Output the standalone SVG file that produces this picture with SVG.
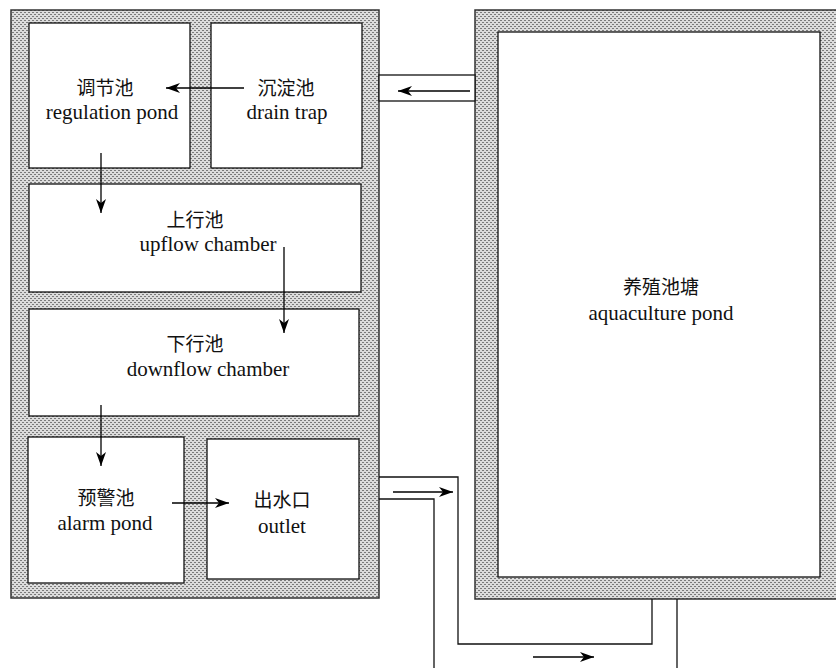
<svg xmlns="http://www.w3.org/2000/svg" width="836" height="668" viewBox="0 0 836 668">
<defs>
<pattern id="dots" width="4" height="4" patternUnits="userSpaceOnUse">
<rect width="4" height="4" fill="#dcdcdc"/>
<rect x="0" y="0" width="2" height="1" fill="#7a7a7a"/>
<rect x="2" y="2" width="2" height="1" fill="#7a7a7a"/>
</pattern>
<marker id="ah" viewBox="0 0 14 10" refX="14" refY="5" markerWidth="14" markerHeight="10" markerUnits="userSpaceOnUse" orient="auto">
<path d="M0,0 L14,5 L0,10 L4,5 Z" fill="#000"/>
</marker>
<style>
.wall{fill:url(#dots);stroke:#333;stroke-width:1.5}
.box{fill:#fff;stroke:#111;stroke-width:1.3}
.line{fill:none;stroke:#111;stroke-width:1.3}
.arr{fill:none;stroke:#000;stroke-width:1.3;marker-end:url(#ah)}
text{font-family:"Liberation Serif","Noto Sans CJK SC",serif;font-size:21px;fill:#111;text-anchor:middle}
.zh{font-family:"Noto Sans CJK SC",sans-serif;font-size:19px}
</style>
</defs>
<rect width="836" height="668" fill="#fff"/>
<g id="treatment-system">
<rect class="wall" x="11" y="10" width="368" height="588"/>
</g>
<g id="aquaculture-pond">
<rect class="wall" x="475" y="10" width="370" height="589"/>
<rect class="box" x="498" y="32" width="322" height="545"/>
<text class="zh" x="661" y="294">养殖池塘</text>
<text x="661" y="320">aquaculture pond</text>
</g>
<g id="regulation-pond">
<rect class="box" x="29" y="23" width="161" height="145"/>
<text class="zh" x="105" y="95">调节池</text>
<text x="112" y="119">regulation pond</text>
</g>
<g id="drain-trap">
<rect class="box" x="211" y="23" width="151" height="145"/>
<text class="zh" x="286" y="95">沉淀池</text>
<text x="287" y="119">drain trap</text>
</g>
<g id="upflow-chamber">
<rect class="box" x="29" y="184" width="332" height="108"/>
<text class="zh" x="195" y="227">上行池</text>
<text x="208" y="251">upflow chamber</text>
</g>
<g id="downflow-chamber">
<rect class="box" x="29" y="309" width="330" height="107"/>
<text class="zh" x="195" y="351">下行池</text>
<text x="208" y="376">downflow chamber</text>
</g>
<g id="alarm-pond">
<rect class="box" x="28" y="437" width="156" height="146"/>
<text class="zh" x="106" y="505">预警池</text>
<text x="105" y="530">alarm pond</text>
</g>
<g id="outlet">
<rect class="box" x="207" y="439" width="152" height="140"/>
<text class="zh" x="282" y="507">出水口</text>
<text x="282" y="533">outlet</text>
</g>
<g id="connectors">
<rect class="box" x="379" y="75" width="96" height="26"/>
<line class="arr" x1="470" y1="91" x2="398" y2="91"/>
<line class="arr" x1="244" y1="88" x2="166" y2="88"/>
<line class="arr" x1="101" y1="153" x2="101" y2="213"/>
<line class="arr" x1="284" y1="247" x2="284" y2="333"/>
<line class="arr" x1="101" y1="405" x2="101" y2="466"/>
<line class="arr" x1="172" y1="503" x2="229" y2="503"/>
<polyline class="line" points="379,477 458,477 458,644 652,644 652,599"/>
<polyline class="line" points="379,499 434,499 434,668"/>
<line class="line" x1="677" y1="599" x2="677" y2="668"/>
<line class="arr" x1="393" y1="492" x2="453" y2="492"/>
<line class="arr" x1="533" y1="657" x2="594" y2="657"/>
</g>
</svg>
